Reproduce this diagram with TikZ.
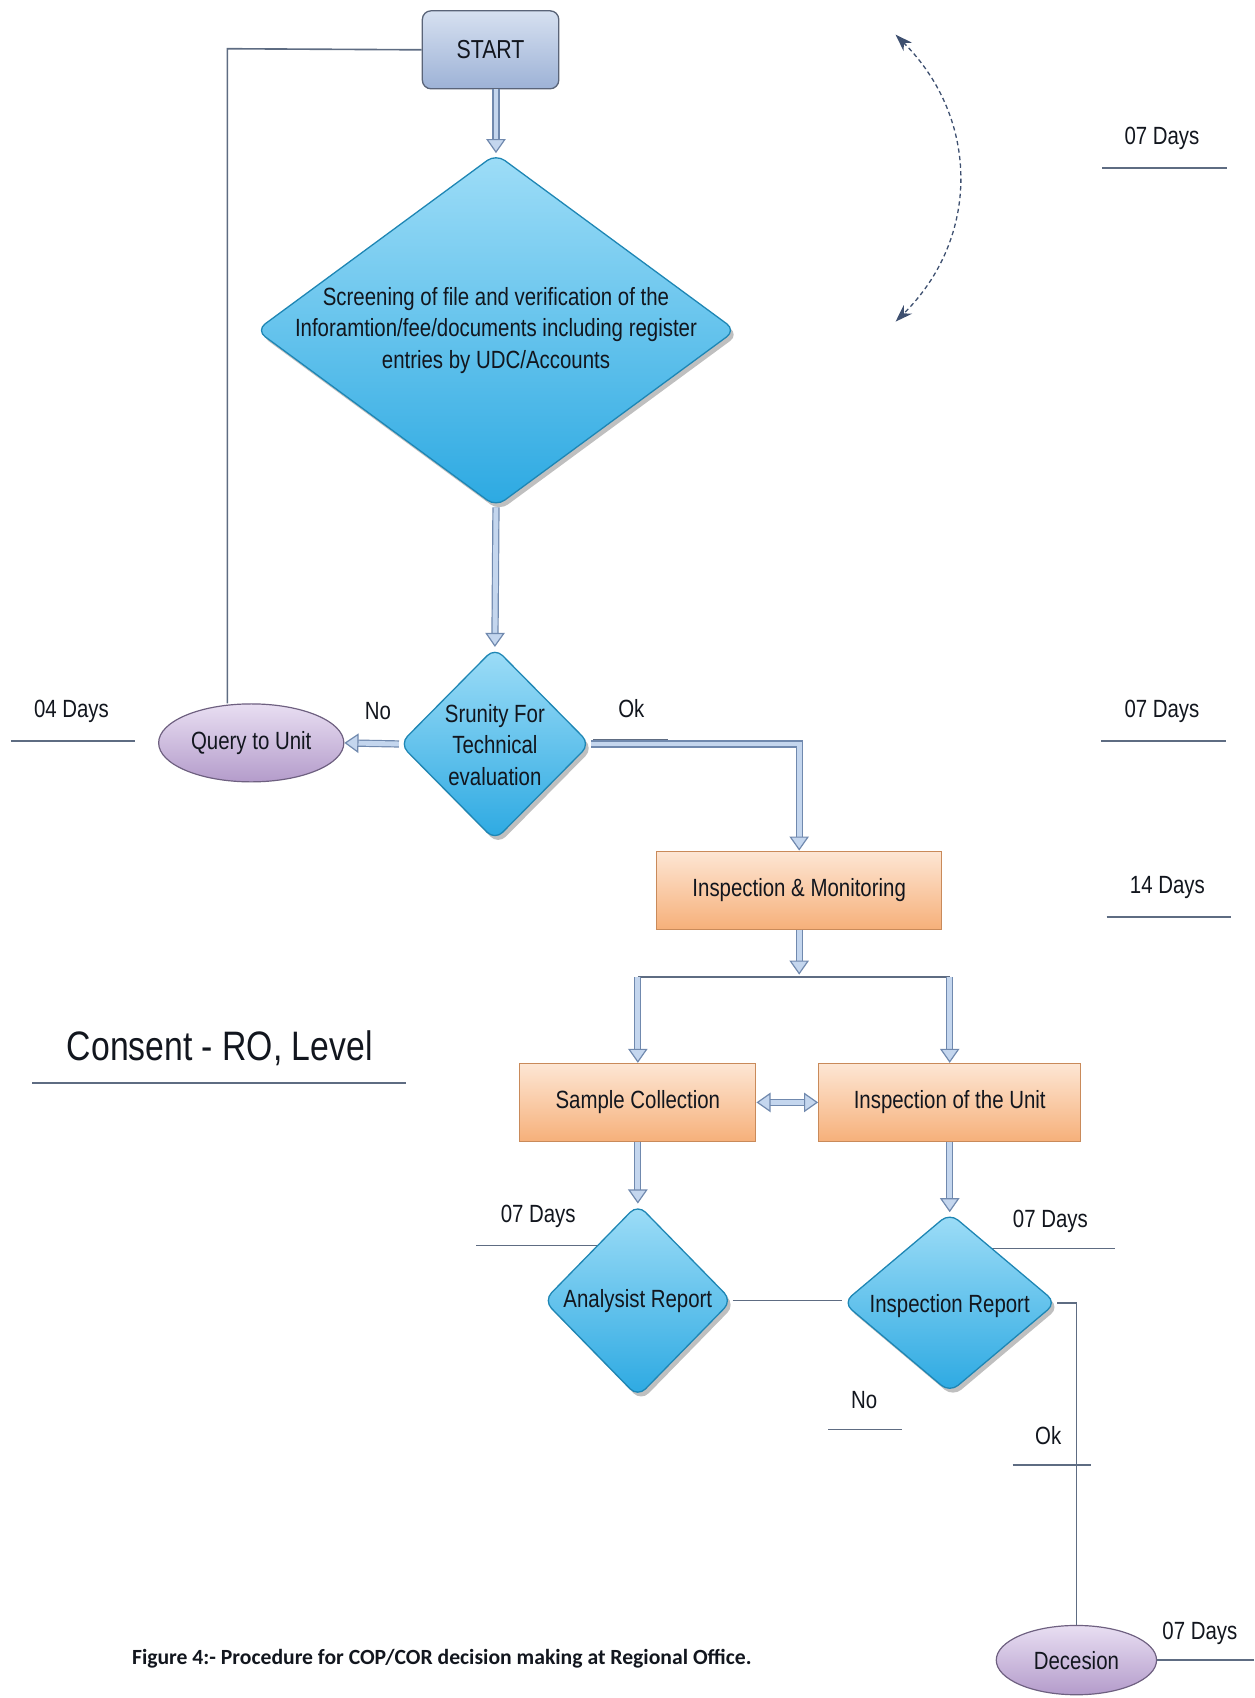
\documentclass[tikz,border=0pt]{standalone}
\usepackage{fontspec}
\setmainfont{Liberation Sans}[FakeStretch=0.82]
\newfontfamily\capfont{Carlito}
\usetikzlibrary{shapes.geometric,arrows.meta,shadows}
\definecolor{textc}{HTML}{12161E}
\definecolor{linec}{HTML}{5E6C82}
\definecolor{arrowedge}{HTML}{7089AE}
\definecolor{arrowfill}{HTML}{C4D6EE}
\definecolor{starttop}{HTML}{D6E0F0}
\definecolor{startbot}{HTML}{9DB2D6}
\definecolor{startedge}{HTML}{5A6478}
\definecolor{diatop}{HTML}{9EDDF7}
\definecolor{diamid}{HTML}{3DB8EC}
\definecolor{diabot}{HTML}{2CA9E2}
\definecolor{diaedge}{HTML}{1E86B4}
\definecolor{ortop}{HTML}{FDE6D4}
\definecolor{orbot}{HTML}{F6B07A}
\definecolor{oredge}{HTML}{C98A5A}
\definecolor{lavtop}{HTML}{E8DEF2}
\definecolor{lavbot}{HTML}{B49CCB}
\definecolor{lavedge}{HTML}{6E6080}
\definecolor{dashc}{HTML}{3E5070}
\begin{document}
\begin{tikzpicture}[x=1pt,y=-1pt,
  txt/.style={font=\fontsize{23}{29}\selectfont, text=textc, align=center, inner sep=0pt},
  bigtxt/.style={font=\fontsize{38}{44}\selectfont, text=textc, inner sep=0pt},
  captxt/.style={font=\capfont\bfseries\fontsize{20}{24}\selectfont, text=textc, inner sep=0pt},
  startbox/.style={rectangle, rounded corners=8pt, draw=startedge, line width=1.2pt, top color=starttop, bottom color=startbot, minimum width=126pt, minimum height=72pt, inner sep=0pt},
  dia/.style={diamond, rounded corners=10pt, draw=diaedge, line width=1.2pt, top color=diatop, middle color=diamid, bottom color=diabot, inner sep=0pt, drop shadow={shadow xshift=3pt, shadow yshift=-4pt, opacity=0.25, fill=black}},
  orbox/.style={rectangle, draw=oredge, line width=1.1pt, top color=ortop, bottom color=orbot, inner sep=0pt, minimum height=72pt},
  lav/.style={ellipse, draw=lavedge, line width=1.1pt, top color=lavtop, bottom color=lavbot, inner sep=0pt},
  thin/.style={draw=linec, line width=1.5pt},
  flow/.style={draw=arrowedge, line width=1.1pt, double=arrowfill, double distance=4.5pt, -{Triangle[length=13pt,width=18pt,fill=arrowfill,line width=1.1pt]}},
  flowboth/.style={draw=arrowedge, line width=1.1pt, double=arrowfill, double distance=4.5pt, {Triangle[length=13pt,width=18pt,fill=arrowfill,line width=1.1pt]}-{Triangle[length=13pt,width=18pt,fill=arrowfill,line width=1.1pt]}}
]
\useasboundingbox (0,0) rectangle (1158,1568);

% helper coordinates
\coordinate (lcorner) at (210,45);
\coordinate (split) at (738,900);
\coordinate (splitL) at (589,902);
\coordinate (splitR) at (877,902);

% day lines drawn behind shapes
\coordinate (d1a) at (1018,155); \coordinate (d1b) at (1133,155);
\coordinate (d2a) at (10,684);   \coordinate (d2b) at (125,684);
\coordinate (d3a) at (1017,684); \coordinate (d3b) at (1132,684);
\coordinate (d4a) at (1022,847); \coordinate (d4b) at (1137,847);
\coordinate (d5a) at (440,1150); \coordinate (d5b) at (560,1150);
\coordinate (d6a) at (915,1153); \coordinate (d6b) at (1030,1153);
\coordinate (crA) at (30,1000);  \coordinate (crB) at (375,1000);
\coordinate (noA) at (765,1320); \coordinate (noB) at (833,1320);
\coordinate (okA) at (935,1353); \coordinate (okB) at (1007,1353);
\coordinate (okuA) at (548,683); \coordinate (okuB) at (617,683);
\coordinate (decR) at (1158,1533);
\foreach \a/\b in {d1a/d1b,d2a/d2b,d3a/d3b,d4a/d4b,d5a/d5b,d6a/d6b,crA/crB,noA/noB,okA/okB}
  \draw[thin] (\a) -- (\b);

% nodes
\node[startbox] (start) at (453,46) {};
\node[txt, font=\fontsize{24}{29}\selectfont] (startt) at (start) {START};

\node[dia, minimum width=443pt, minimum height=326pt] (scr) at (458,305) {};
\node[txt] (scrt) at (458,305) {Screening of file and verification of the\\Inforamtion/fee/documents including register\\entries by UDC/Accounts};

\node[dia, minimum width=176pt, minimum height=178pt] (sru) at (457,687) {};
\node[txt] (srut) at (457,688) {Srunity For\\Technical\\evaluation};

\node[lav, minimum width=171pt, minimum height=72pt] (query) at (232,686) {};
\node[txt] (queryt) at (query) {Query to Unit};

\node[orbox, minimum width=263pt] (im) at (738,822) {};
\node[txt] (imt) at (im) {Inspection \& Monitoring};

\node[orbox, minimum width=218pt] (sc) at (589,1018) {};
\node[txt] (sct) at (sc) {Sample Collection};

\node[orbox, minimum width=242pt] (iu) at (877,1018) {};
\node[txt] (iut) at (iu) {Inspection of the Unit};

\node[dia, minimum width=174pt, minimum height=178pt] (ar) at (589,1201) {};
\node[txt] (art) at (ar) {Analysist Report};

\node[dia, minimum width=197pt, minimum height=166pt] (ir) at (877,1203) {};
\node[txt] (irt) at (877,1206) {Inspection Report};

\node[lav, minimum width=148pt, minimum height=64pt] (dec) at (994,1533) {};
\node[txt] (dect) at (dec) {Decesion};

% labels
\node[txt] (l1) at (1073,128) {07 Days};
\node[txt] (l2) at (66,657) {04 Days};
\node[txt] (l3) at (1073,657) {07 Days};
\node[txt] (l4) at (1078,820) {14 Days};
\node[txt] (l5) at (497,1123) {07 Days};
\node[txt] (l6) at (970,1128) {07 Days};
\node[txt] (l7) at (1108,1508) {07 Days};
\node[txt] (lno1) at (349,657) {No};
\node[txt] (lok1) at (583,654) {Ok};
\node[txt] (lno2) at (798,1293) {No};
\node[txt] (lok2) at (968,1326) {Ok};
\node[bigtxt] (title) at (203,968) {Consent - RO, Level};
\node[captxt] (cap) at (408,1532) {Figure 4:- Procedure for COP/COR decision making at Regional Office.};

% connectors
\draw[thin] (start.west) -- (lcorner) -- (query.north -| lcorner);
\draw[flow] (start.south -| scr.north) -- (scr.north);
\draw[flow] (scr.south) -- (sru.north);
\draw[flow] (sru.west) -- (query.east);
\draw[flow] (sru.east) -| (im.north);
\draw[thin] (okuA) -- (okuB);
\draw[flow] (im.south) -- (split);
\draw[thin] (splitL) -- (splitR);
\draw[flow] (splitL) -- (sc.north);
\draw[flow] (splitR) -- (iu.north);
\draw[flowboth] (sc.east) -- (iu.west);
\draw[flow] (sc.south) -- (ar.north);
\draw[flow] (iu.south) -- (ir.north);
\draw[thin] (ar.east) -- (ar.east -| ir.west);
\draw[thin] (ir.east) -| (dec.north);
\draw[thin] (dec.east) -- (decR);

% dashed curved double arrow
\coordinate (ca) at (827,32);
\coordinate (cb) at (827,297);
\draw[draw=dashc, line width=1.2pt, dash pattern=on 4pt off 3pt, {Stealth[length=16pt,width=11pt]}-{Stealth[length=16pt,width=11pt]}] (ca) .. controls (905,110) and (905,220) .. (cb);
\end{tikzpicture}
\end{document}
